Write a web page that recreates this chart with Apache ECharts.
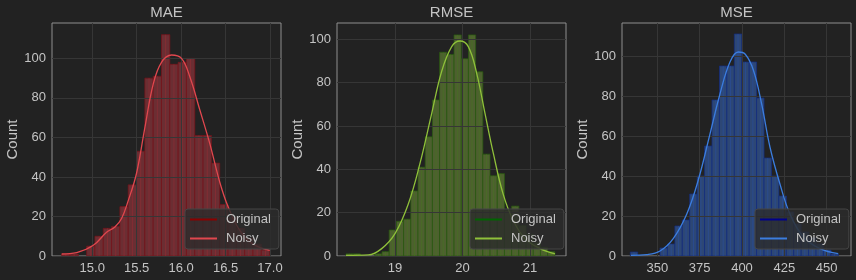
<!DOCTYPE html>
<html><head><meta charset="utf-8">
<script src="https://cdn.jsdelivr.net/npm/echarts@6/dist/echarts.min.js"></script>
<style>html,body{margin:0;padding:0;background:#222222;} #c{width:856px;height:280px;}</style>
</head><body><div id="c"></div>
<script>
// ---- data ----
const panelTitles = ['MAE', 'RMSE', 'MSE'];
const legendNames = ['Original', 'Noisy'];
const yTicks = [0, 20, 40, 60, 80, 100];

// MAE
const maeBinStart = 14.656;
const maeBinWidth = 0.0936;
const maeCounts = [1, 1, 0, 5, 10, 14, 15, 25, 36, 53, 90, 91, 112, 97, 98, 100, 61, 61, 47, 26, 20, 14, 9, 6, 3];
const maeKdeX = [14.656, 14.824, 15.012, 15.161, 15.255, 15.33, 15.405, 15.499, 15.592, 15.686, 15.779, 15.892, 16.004, 16.098, 16.21, 16.322, 16.434, 16.528, 16.66, 16.809, 16.997];
const maeKdeY = [1, 1.7, 5.4, 12, 14.7, 19, 28, 42, 65, 87, 98, 101.7, 100, 90.7, 74, 57, 37.5, 25, 13, 6, 2.9];
const maeTicks = [15.0, 15.5, 16.0, 16.5, 17.0];

// RMSE
const rmseBinStart = 18.274;
const rmseBinWidth = 0.1067;
const rmseCounts = [1, 1, 0, 0, 1, 2, 12, 16, 17, 30, 41, 55, 72, 94, 93, 102, 91, 102, 85, 47, 37, 38, 21, 23, 14, 10, 6, 4, 2];
const rmseKdeX = [18.274, 18.605, 18.803, 19.0, 19.197, 19.37, 19.544, 19.69, 19.84, 19.963, 20.086, 20.21, 20.333, 20.457, 20.6, 20.75, 20.926, 21.15, 21.37];
const rmseKdeY = [0.3, 0.5, 3.4, 10.3, 24, 42.7, 65.8, 85, 96.6, 99.2, 96.6, 84.3, 65.8, 47.3, 28.8, 16.5, 8, 3.4, 1];
const rmseTicks = [19, 20, 21];

// MSE
const mseBinStart = 334.06;
const mseBinWidth = 4.386;
const mseCounts = [2, 0, 0, 0, 4, 6, 15, 18, 31, 40, 55, 78, 95, 95, 111, 97, 97, 79, 49, 40, 30, 22, 16, 12, 9, 6, 3, 1];
const mseKdeX = [334.47, 343.7, 351.6, 359.4, 367.4, 374.2, 381.1, 387, 392.9, 397.8, 401.8, 406.7, 411.6, 416.5, 422.4, 428.3, 436.2, 446, 456.8];
const mseKdeY = [0.3, 0.7, 2.5, 8.7, 21, 38, 61, 81, 97, 102, 101, 93, 76, 54.5, 36, 21, 9.5, 3.7, 1.2];
const mseTicks = [350, 375, 400, 425, 450];

// ---- layout / styles ----
const panels = [
  {binStart: maeBinStart, binWidth: maeBinWidth, counts: maeCounts, kdeX: maeKdeX, kdeY: maeKdeY, ticks: maeTicks,
   xMin: 14.547, xMax: 17.124, yMax: 117.9, fmt: v => v.toFixed(1),
   fill: '#6b2e33', stroke: 'rgba(120,20,26,0.9)', inner: 'rgba(150,45,52,0.7)', kde: '#e0474e', orig: '#8b0000'},
  {binStart: rmseBinStart, binWidth: rmseBinWidth, counts: rmseCounts, kdeX: rmseKdeX, kdeY: rmseKdeY, ticks: rmseTicks,
   xMin: 18.141, xMax: 21.533, yMax: 107.5, fmt: v => String(Math.round(v)),
   fill: '#4d602f', stroke: 'rgba(40,90,15,0.9)', inner: 'rgba(70,120,30,0.6)', kde: '#8fc03a', orig: '#006400'},
  {binStart: mseBinStart, binWidth: mseBinWidth, counts: mseCounts, kdeX: mseKdeX, kdeY: mseKdeY, ticks: mseTicks,
   xMin: 329.16, xMax: 464.35, yMax: 116.5, fmt: v => String(Math.round(v)),
   fill: '#2d4775', stroke: 'rgba(20,45,130,0.9)', inner: 'rgba(40,80,170,0.6)', kde: '#3b7ddf', orig: '#00008b'}
];
const gridLefts = [52, 337, 622];
const gridWidth = 229;
const textColor = '#c4c4c4';
const font = '"Liberation Sans", Arial, sans-serif';

function histRender(fill, stroke, inner) {
  return function (params, api) {
    const x0 = api.value(0), x1 = api.value(1), c = api.value(2);
    const p0 = api.coord([x0, c]);
    const p1 = api.coord([x1, 0]);
    const w = p1[0] - p0[0], h = p1[1] - p0[1];
    if (h <= 0) return null;
    return {type: 'group', children: [
      {type: 'rect', shape: {x: p0[0], y: p0[1], width: w, height: h},
       style: {fill: fill, stroke: stroke, lineWidth: 0.8}},
      {type: 'line', shape: {x1: p0[0] + w / 2, y1: p0[1], x2: p0[0] + w / 2, y2: p1[1]},
       style: {stroke: inner, lineWidth: 0.8}}
    ]};
  };
}

const option = {backgroundColor: '#222222', animation: false, textStyle: {fontFamily: font},
  title: [], grid: [], xAxis: [], yAxis: [], legend: [], series: []};

panels.forEach((p, i) => {
  const left = gridLefts[i];
  option.grid.push({left: left, top: 23, width: gridWidth, height: 233, show: true,
    borderColor: '#8e8e8e', borderWidth: 1, backgroundColor: 'transparent', containLabel: false});
  option.title.push({text: panelTitles[i], left: left + gridWidth / 2, top: 5, textAlign: 'center', padding: 0,
    textStyle: {color: textColor, fontSize: 15, fontWeight: 'normal', fontFamily: font}});
  option.xAxis.push({type: 'value', gridIndex: i, min: p.xMin, max: p.xMax, z: 5,
    axisLine: {show: false}, axisTick: {show: false, customValues: p.ticks},
    axisLabel: {customValues: p.ticks, color: textColor, fontSize: 13, margin: 6, fontFamily: font, formatter: p.fmt},
    splitLine: {show: true, lineStyle: {color: '#363636', width: 1}}});
  option.yAxis.push({type: 'value', gridIndex: i, min: 0, max: p.yMax, z: 5,
    name: 'Count', nameLocation: 'middle', nameGap: 30,
    nameTextStyle: {color: textColor, fontSize: 15, fontFamily: font},
    axisLine: {show: false}, axisTick: {show: false, customValues: yTicks},
    axisLabel: {customValues: yTicks, color: textColor, fontSize: 13, margin: 6, fontFamily: font},
    splitLine: {show: true, lineStyle: {color: '#363636', width: 1}}});
  option.legend.push({orient: 'vertical', left: left + 133, top: 209, z: 20,
    padding: [4, 8, 4, 5], itemGap: 6, itemWidth: 27, itemHeight: 2,
    backgroundColor: 'rgba(44,44,44,0.82)', borderColor: '#444444', borderWidth: 1, borderRadius: 3,
    textStyle: {color: textColor, fontSize: 13, lineHeight: 13, fontFamily: font, padding: [0, 0, 0, 4]},
    selectedMode: false,
    data: [
      {name: legendNames[0], icon: 'rect', itemStyle: {color: p.orig, borderWidth: 0}},
      {name: legendNames[1], icon: 'rect', itemStyle: {color: p.kde, borderWidth: 0}}
    ]});
  const histData = p.counts.map((c, k) => [p.binStart + k * p.binWidth, p.binStart + (k + 1) * p.binWidth, c]);
  option.series.push({type: 'custom', name: legendNames[0], xAxisIndex: i, yAxisIndex: i, z: 2,
    itemStyle: {color: p.orig}, encode: {x: [0, 1], y: 2}, data: histData, renderItem: histRender(p.fill, p.stroke, p.inner)});
  option.series.push({type: 'line', name: legendNames[1], xAxisIndex: i, yAxisIndex: i, z: 10,
    data: p.kdeX.map((x, k) => [x, p.kdeY[k]]), smooth: 0.4, showSymbol: false, symbol: 'none',
    lineStyle: {color: p.kde, width: 1.3}, itemStyle: {color: p.kde}});
});

const chart = echarts.init(document.getElementById('c'), null, {renderer: 'canvas'});
chart.setOption(option);
</script>
</body></html>
